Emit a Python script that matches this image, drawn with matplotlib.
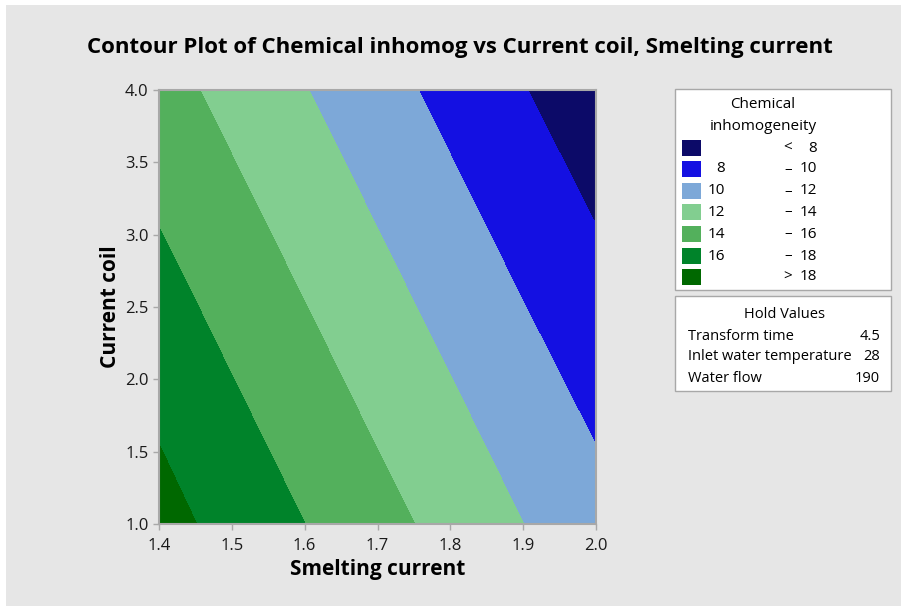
import numpy as np
import matplotlib.pyplot as plt
from matplotlib.patches import Rectangle

# grid (Smelting current x Current coil)
smelting = [1.4, 1.5, 1.6, 1.7, 1.8, 1.9, 2.0]
coil = [1.0, 1.5, 2.0, 2.5, 3.0, 3.5, 4.0]
chem = [
    [18.70, 17.35, 16.01, 14.68, 13.35, 12.01, 10.70],
    [18.07, 16.69, 15.36, 14.02, 12.69, 11.36, 10.06],
    [17.40, 16.04, 14.70, 13.37, 12.04, 10.70, 9.40],
    [16.74, 15.38, 14.05, 12.71, 11.38, 10.05, 8.75],
    [16.07, 14.73, 13.39, 12.06, 10.73, 9.39, 8.09],
    [15.40, 14.07, 12.74, 11.40, 10.07, 8.74, 7.43],
    [14.75, 13.42, 12.08, 10.75, 9.42, 8.08, 6.75],
]
levels = [0, 8, 10, 12, 14, 16, 18, 30]
colors = ['#0C0A68', '#1410E2', '#7DA8D8', '#82CE90', '#53B05C', '#00832A', '#006800']
leg_left = ['', '8', '10', '12', '14', '16', '']
leg_mid = ['<', '–', '–', '–', '–', '–', '>']
leg_right = ['8', '10', '12', '14', '16', '18', '18']
hold_names = ['Transform time', 'Inlet water temperature', 'Water flow']
hold_vals = ['4.5', '28', '190']

plt.rcParams['font.family'] = ['Open Sans', 'DejaVu Sans']
fig = plt.figure(figsize=(9.01, 6.06), dpi=100, facecolor='white')
fig.patches.append(Rectangle((6 / 901, 0), 1, 1 - 5 / 606, transform=fig.transFigure,
                             facecolor='#E6E6E6', edgecolor='none', zorder=-10))

ax = fig.add_axes([159 / 901, 1 - 524 / 606, 437 / 901, 434 / 606])
X, Y = np.meshgrid(smelting, coil)
ax.contourf(X, Y, np.array(chem), levels=levels, colors=colors)
ax.set_xlim(1.4, 2.0)
ax.set_ylim(1.0, 4.0)
ax.set_xticks([1.4, 1.5, 1.6, 1.7, 1.8, 1.9, 2.0])
ax.set_yticks([1.0, 1.5, 2.0, 2.5, 3.0, 3.5, 4.0])
ax.xaxis.set_major_formatter(plt.FormatStrFormatter('%.1f'))
ax.yaxis.set_major_formatter(plt.FormatStrFormatter('%.1f'))
for s in ax.spines.values():
    s.set_color('#A8A8A8')
    s.set_linewidth(1.5)
ax.tick_params(colors='#A8A8A8', labelcolor='#1A1A1A', labelsize=12, length=4, width=1)
ax.tick_params(axis='x', pad=6)
ax.set_xlabel('Smelting current', fontsize=15, fontweight='bold', labelpad=4)
ax.set_ylabel('Current coil', fontsize=15, fontweight='bold', labelpad=3)

fig.text(460 / 901, 1 - 48 / 606, 'Contour Plot of Chemical inhomog vs Current coil, Smelting current',
         ha='center', va='center', fontsize=16, fontweight='bold')

# legend box
def px(x, y):
    return x / 901, 1 - y / 606

box1 = Rectangle(px(675, 290), 216 / 901, 201 / 606, transform=fig.transFigure,
                 facecolor='white', edgecolor='#A8A8A8', lw=1)
fig.patches.append(box1)
fig.text(*px(763, 105), 'Chemical', ha='center', va='center', fontsize=11)
fig.text(*px(763, 127), 'inhomogeneity', ha='center', va='center', fontsize=11)
rows = [148, 169, 191, 212, 234, 256, 277]
for i, yy in enumerate(rows):
    fig.patches.append(Rectangle(px(682, yy + 8), 19 / 901, 16 / 606, transform=fig.transFigure,
                                 facecolor=colors[i], edgecolor='none'))
    fig.text(*px(725, yy), leg_left[i], ha='right', va='center', fontsize=11)
    fig.text(*px(788, yy), leg_mid[i], ha='center', va='center', fontsize=11)
    fig.text(*px(817, yy), leg_right[i], ha='right', va='center', fontsize=11)

box2 = Rectangle(px(675, 391), 216 / 901, 95 / 606, transform=fig.transFigure,
                 facecolor='white', edgecolor='#A8A8A8', lw=1)
fig.patches.append(box2)
fig.text(*px(785, 314), 'Hold Values', ha='center', va='center', fontsize=10.5)
for i, yy in enumerate([336, 357, 379]):
    fig.text(*px(688, yy), hold_names[i], ha='left', va='center', fontsize=10.5)
    fig.text(*px(880, yy), hold_vals[i], ha='right', va='center', fontsize=10.5)

fig.savefig('out.png', dpi=100, facecolor=fig.get_facecolor())
